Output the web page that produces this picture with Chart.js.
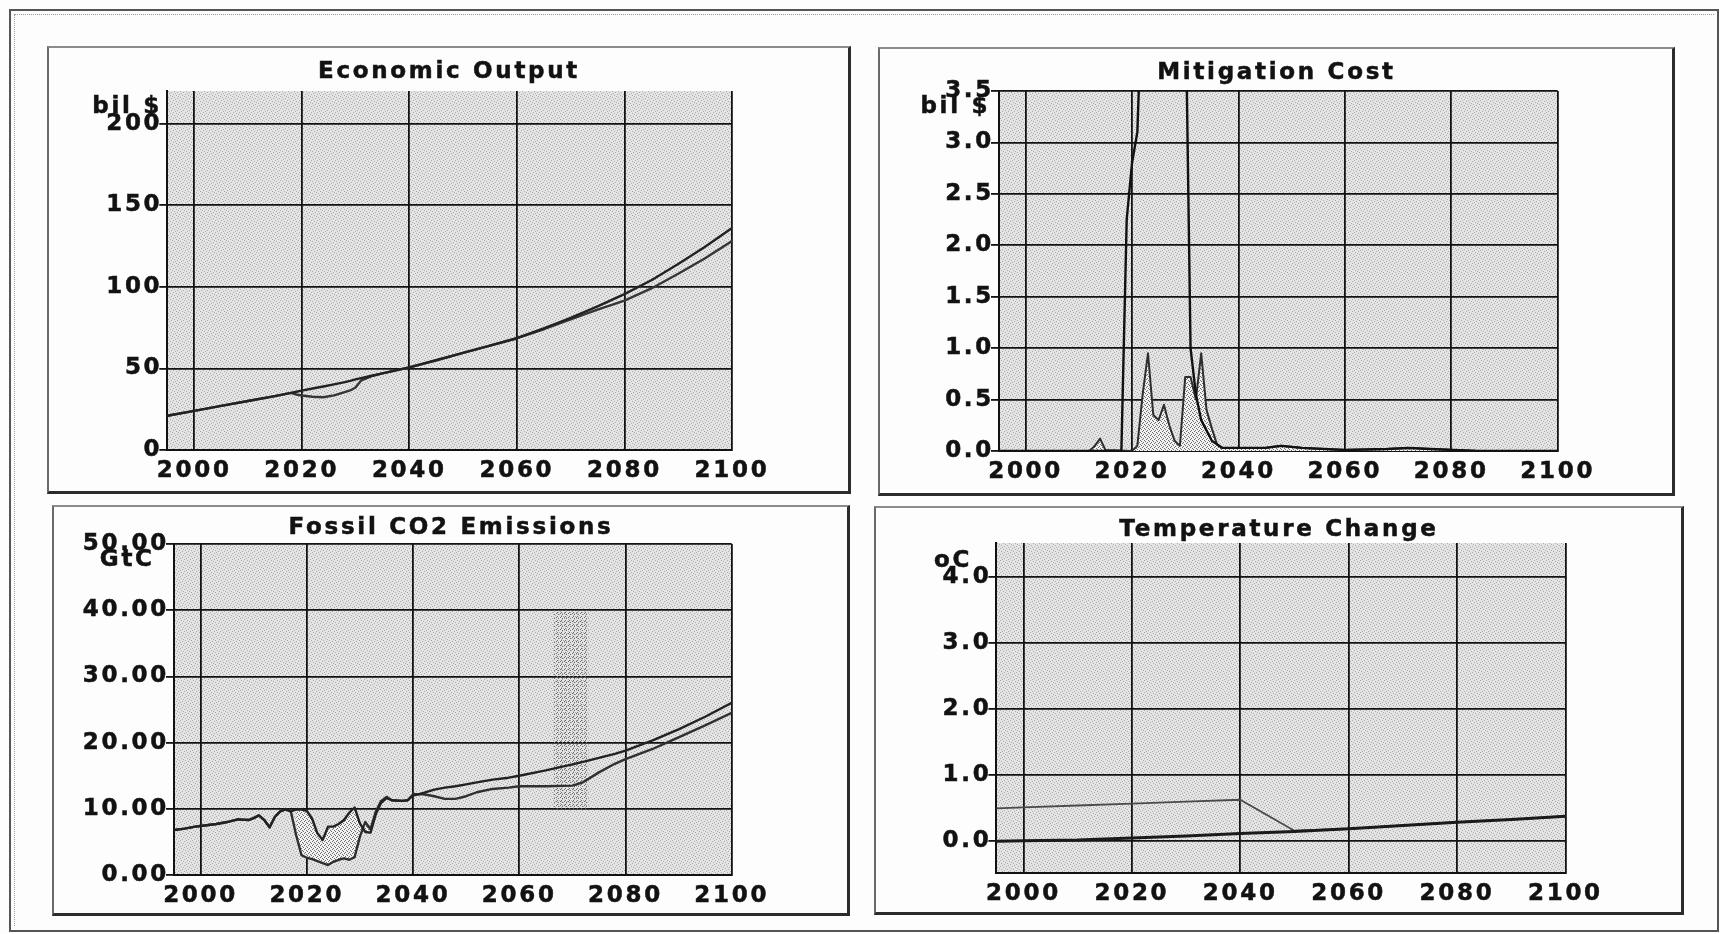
<!DOCTYPE html>
<html>
<head>
<meta charset="utf-8">
<script src="https://cdn.jsdelivr.net/npm/chart.js@4.4.1/dist/chart.umd.min.js"></script>
<style>
  html, body { margin: 0; padding: 0; background: #fdfdfd; }
  body { width: 1720px; height: 934px; position: relative; overflow: hidden; }
  canvas { position: absolute; }
  .box {
    position: absolute; box-sizing: border-box; pointer-events: none;
    border-top: 2px solid #8c8c8c; border-left: 2px solid #6a6a6a;
    border-right: 3px solid #2c2c2c; border-bottom: 3px solid #2c2c2c;
  }
  .frame { position: absolute; box-sizing: border-box; pointer-events: none; }
</style>
</head>
<body>
<div class="frame" style="left:9px;top:9px;width:1710px;height:923px;border:2px solid #555;"></div>
<div class="frame" style="left:14px;top:14px;width:1700px;height:912px;border-top:1px dotted #9a9a9a;border-left:1px dotted #9a9a9a;"></div>

<canvas id="econ" width="804" height="448" style="left:47px;top:46px"></canvas>
<canvas id="cost" width="797" height="449" style="left:878px;top:47px"></canvas>
<canvas id="co2" width="798" height="411" style="left:52px;top:505px"></canvas>
<canvas id="temp" width="810" height="409" style="left:874px;top:506px"></canvas>

<div class="box" style="left:47px;top:46px;width:804px;height:448px"></div>
<div class="box" style="left:878px;top:47px;width:797px;height:449px"></div>
<div class="box" style="left:52px;top:505px;width:798px;height:411px"></div>
<div class="box" style="left:874px;top:506px;width:810px;height:409px"></div>

<script>
// ---- tick values ----
const yearTicks = [2000, 2020, 2040, 2060, 2080, 2100];
const econTicks = [0, 50, 100, 150, 200];
const costTicks = [0, 0.5, 1, 1.5, 2, 2.5, 3, 3.5];
const co2Ticks = [0, 10, 20, 30, 40, 50];
const tempTicks = [0, 1, 2, 3, 4];

// ---- Economic Output (bil $) ----
const econYears = [1995, 2000, 2005, 2010, 2015, 2018, 2019, 2020, 2022, 2024, 2026, 2028, 2029, 2030, 2031, 2033, 2035, 2040, 2045, 2050, 2055, 2060, 2065, 2070, 2075, 2080, 2085, 2090, 2095, 2100];
const econBaseline = [21, 24, 27, 30, 33, 35, 35.7, 36.4, 37.7, 38.9, 40.2, 41.6, 42.4, 43.3, 44, 45.5, 47, 50.6, 55, 59.5, 64, 68.5, 74.5, 81, 88, 95.5, 104, 114, 124.5, 136];
const econMitigation = [21, 24, 27, 30, 33, 35, 34, 33.4, 32.6, 32.3, 33.5, 35.5, 36.5, 38.3, 42.5, 45.3, 47, 50.6, 55, 59.5, 64, 68.5, 74, 80, 86, 91.5, 99, 108, 117.5, 128];

// ---- Mitigation Cost (bil $) ----
const costHighYears = [1995, 2017, 2018, 2019, 2020, 2021, 2022, 2029, 2030, 2031, 2032, 2033, 2035, 2037, 2045, 2048, 2052, 2060, 2068, 2072, 2076, 2085, 2100];
const costHigh = [0, 0, 0, 2.25, 2.8, 3.1, 4.6, 6.5, 4.6, 1.0, 0.55, 0.3, 0.1, 0.03, 0.03, 0.05, 0.03, 0.01, 0.02, 0.03, 0.02, 0, 0];
const costLowYears = [1995, 2012, 2013, 2014, 2015, 2020, 2021, 2022, 2023, 2024, 2025, 2026, 2027, 2028, 2029, 2030, 2031, 2032, 2033, 2034, 2035, 2036, 2037, 2045, 2048, 2052, 2060, 2068, 2072, 2076, 2085, 2100];
const costLow = [0, 0, 0.05, 0.12, 0.01, 0, 0.05, 0.55, 0.95, 0.35, 0.3, 0.45, 0.25, 0.1, 0.05, 0.72, 0.72, 0.5, 0.95, 0.4, 0.22, 0.06, 0.03, 0.03, 0.05, 0.03, 0.01, 0.02, 0.03, 0.02, 0, 0];

// ---- Fossil CO2 Emissions (GtC) ----
const co2Years = [1995, 1997, 1999, 2000, 2003, 2005, 2007, 2009, 2010, 2011, 2012, 2013, 2014, 2015, 2016, 2017, 2018, 2019, 2020, 2021, 2022, 2023, 2024, 2025, 2026, 2027, 2028, 2029, 2030, 2031, 2032, 2033, 2034, 2035, 2036, 2038, 2039, 2040, 2042, 2044, 2046, 2048, 2050, 2052, 2055, 2058, 2060, 2065, 2070, 2072, 2075, 2078, 2080, 2085, 2090, 2095, 2100];
const co2LowCost = [6.8, 7.0, 7.3, 7.4, 7.7, 8.0, 8.4, 8.3, 8.6, 9.0, 8.3, 7.2, 8.8, 9.6, 9.9, 9.6, 9.9, 9.9, 9.7, 8.5, 6.3, 5.3, 7.3, 7.3, 7.7, 8.3, 9.4, 10.2, 7.8, 6.5, 6.4, 9.2, 10.9, 11.6, 11.3, 11.2, 11.3, 12.0, 12.4, 12.9, 13.2, 13.4, 13.7, 14.0, 14.4, 14.7, 15.0, 15.8, 16.7, 17.1, 17.7, 18.3, 18.8, 20.3, 22.0, 23.9, 26.0];
const co2HighCost = [6.8, 7.0, 7.3, 7.4, 7.7, 8.0, 8.4, 8.3, 8.6, 9.0, 8.3, 7.2, 8.8, 9.6, 9.9, 9.6, 6.0, 3.0, 2.6, 2.4, 2.1, 1.8, 1.5, 2.0, 2.3, 2.5, 2.3, 2.7, 5.8, 8.0, 6.9, 9.6, 11.2, 11.8, 11.3, 11.2, 11.3, 12.2, 12.2, 11.9, 11.5, 11.5, 11.9, 12.5, 13.0, 13.2, 13.4, 13.4, 13.5, 14.0, 15.5, 16.8, 17.5, 19.0, 20.8, 22.6, 24.5];
const co2ShadedPeriod = [2018, 2036];
const co2Band = [2066.5, 2073, 10, 40];

// ---- Temperature Change (oC) ----
const tempYears = [1995, 2000, 2010, 2020, 2030, 2040, 2050, 2060, 2070, 2080, 2090, 2100];
const tempBaseline = [0.0, 0.01, 0.02, 0.05, 0.08, 0.12, 0.15, 0.19, 0.24, 0.29, 0.33, 0.38];
const tempPolicy = [0.5, 0.514, 0.543, 0.572, 0.601, 0.63, 0.16, 0.19, 0.24, 0.29, 0.33, 0.38];

// ---- drawing helpers ----
const FONT_FAMILY = "'DejaVu Sans', 'Liberation Sans', Arial, sans-serif";
const FONT_SIZE = 23;
const TRACKING = 2.7;
const INK = '#121212';

function pairs(xs, ys) { return xs.map((x, i) => ({ x: x, y: ys[i] })); }

function dotTile(size, base, dot, cells) {
  const c = document.createElement('canvas');
  c.width = size; c.height = size;
  const g = c.getContext('2d');
  g.fillStyle = base; g.fillRect(0, 0, size, size);
  g.fillStyle = dot;
  cells.forEach(([x, y]) => g.fillRect(x, y, 1, 1));
  return g.createPattern(c, 'repeat');
}

const plotFill = dotTile(6, '#e4e4e4', '#acacac', [[0, 0], [3, 1], [1, 3], [4, 4], [2, 5], [5, 2]]);
const shadeFill = dotTile(4, '#f2f2f2', '#6c6c6c', [[0, 0], [2, 1], [1, 3], [3, 2]]);
const bandFill = dotTile(4, 'rgba(0,0,0,0)', '#6e6e6e', [[0, 0], [2, 1], [1, 3]]);

// letter-spaced text, stippled plot backdrop, heavier title and the unit label at the top of the y axis
const panelStyle = {
  id: 'panelStyle',
  beforeUpdate(chart) { chart.ctx.letterSpacing = TRACKING + 'px'; },
  beforeDraw(chart) {
    const { ctx, chartArea: a } = chart;
    ctx.letterSpacing = TRACKING + 'px';
    ctx.save();
    ctx.fillStyle = plotFill;
    ctx.fillRect(a.left, a.top, a.right - a.left, a.bottom - a.top);
    ctx.restore();
  },
  afterDraw(chart, args, opts) {
    const { ctx, chartArea: a } = chart;
    ctx.save();
    ctx.letterSpacing = TRACKING + 'px';
    ctx.font = 'bold ' + FONT_SIZE + 'px ' + FONT_FAMILY;
    ctx.fillStyle = INK;
    ctx.strokeStyle = INK;
    ctx.lineWidth = 0.5;
    const tb = chart.titleBlock;
    if (tb && tb.options.display) {
      ctx.textAlign = 'center';
      ctx.textBaseline = 'middle';
      ctx.strokeText(tb.options.text, (tb.left + tb.right) / 2, tb.top + tb.options.padding.top + FONT_SIZE * 0.6);
    }
    if (opts.text) {
      ctx.textAlign = 'right';
      ctx.textBaseline = 'alphabetic';
      const ux = a.left + opts.dx + TRACKING, uy = a.top + opts.dy;
      ctx.fillText(opts.text, ux, uy);
      ctx.strokeText(opts.text, ux, uy);
    }
    ctx.restore();
  }
};

// dotted shading band drawn through the chart scales
const bandShade = {
  id: 'bandShade',
  beforeDatasetsDraw(chart) {
    const { ctx, scales: { x, y } } = chart;
    const [x0, x1, y0, y1] = co2Band;
    const left = x.getPixelForValue(x0), right = x.getPixelForValue(x1);
    const top = y.getPixelForValue(y1), bottom = y.getPixelForValue(y0);
    ctx.save();
    ctx.fillStyle = bandFill;
    ctx.fillRect(left, top, right - left, bottom - top);
    ctx.restore();
  }
};

function makePanel(id, cfg) {
  const canvas = document.getElementById(id);
  const w = canvas.width, h = canvas.height;
  const lh = FONT_SIZE * 1.2;
  const padTop = cfg.titleMid - lh / 2;
  const padBottom = cfg.area.top - padTop - lh;
  const tickFont = { family: FONT_FAMILY, size: FONT_SIZE, weight: 'bold', lineHeight: 1.2 };
  return new Chart(canvas, {
    type: 'line',
    data: { datasets: cfg.datasets },
    options: {
      responsive: false,
      animation: false,
      events: [],
      layout: { padding: 0 },
      elements: { point: { radius: 0 }, line: { tension: 0, borderCapStyle: 'round', borderJoinStyle: 'round' } },
      plugins: {
        legend: { display: false },
        tooltip: { enabled: false },
        filler: { drawTime: 'beforeDatasetsDraw' },
        title: {
          display: true, text: cfg.title, color: INK,
          font: { family: FONT_FAMILY, size: FONT_SIZE, weight: 'bold', lineHeight: 1.2 },
          padding: { top: padTop, bottom: padBottom }
        },
        panelStyle: { text: cfg.unit, dx: cfg.unitDx, dy: cfg.unitDy }
      },
      scales: {
        x: {
          type: 'linear', min: 1995, max: 2100,
          afterBuildTicks(s) { s.ticks = yearTicks.map(v => ({ value: v })); },
          afterFit(s) { s.height = h - cfg.area.bottom; },
          grid: { color: INK, lineWidth: 1.8, drawTicks: false },
          border: { display: true, color: INK, width: 2 },
          ticks: { color: INK, font: tickFont, padding: 7, maxRotation: 0, autoSkip: false,
                   textStrokeColor: INK, textStrokeWidth: 0.5, callback: v => String(v) }
        },
        y: {
          type: 'linear', min: cfg.yMin, max: cfg.yMax,
          afterBuildTicks(s) { s.ticks = cfg.yTicks.map(v => ({ value: v })); },
          afterFit(s) { s.width = cfg.area.left; },
          grid: { color: INK, lineWidth: 1.8, drawTicks: true, tickLength: 8, tickColor: INK, tickWidth: 1.8 },
          border: { display: true, color: INK, width: 2 },
          ticks: { color: INK, font: tickFont, padding: -3, autoSkip: false,
                   textStrokeColor: INK, textStrokeWidth: 0.5, callback: v => Number(v).toFixed(cfg.digits) }
        },
        // empty strip on the right of the plot so the title stays centred on the whole panel
        margin: {
          type: 'linear', position: 'right', display: true,
          afterFit(s) { s.width = w - cfg.area.right; },
          grid: { display: false }, border: { display: false }, ticks: { display: false }
        }
      }
    },
    plugins: [panelStyle].concat(cfg.extraPlugins || [])
  });
}

makePanel('econ', {
  title: 'Economic Output', titleMid: 26, unit: 'bil $', unitDx: -8, unitDy: 22,
  area: { left: 120.3, top: 45, right: 685, bottom: 404 },
  yMin: 0, yMax: 220, yTicks: econTicks, digits: 0,
  datasets: [
    { data: pairs(econYears, econBaseline), borderColor: '#222222', borderWidth: 2.4, fill: false },
    { data: pairs(econYears, econMitigation), borderColor: '#363636', borderWidth: 2.4, fill: false }
  ]
});

makePanel('cost', {
  title: 'Mitigation Cost', titleMid: 26.3, unit: 'bil $', unitDx: -11.5, unitDy: 22,
  area: { left: 121, top: 44, right: 679.7, bottom: 404 },
  yMin: 0, yMax: 3.5, yTicks: costTicks, digits: 1,
  datasets: [
    { data: pairs(costHighYears, costHigh), borderColor: '#111111', borderWidth: 2.4, fill: false },
    { data: pairs(costLowYears, costLow), borderColor: '#2e2e2e', borderWidth: 2, fill: 'origin', backgroundColor: shadeFill }
  ]
});

makePanel('co2', {
  title: 'Fossil CO2 Emissions', titleMid: 23.5, unit: 'GtC', unitDx: -22, unitDy: 22,
  area: { left: 122, top: 39, right: 679.7, bottom: 370 },
  yMin: 0, yMax: 50, yTicks: co2Ticks, digits: 2,
  extraPlugins: [bandShade],
  datasets: [
    {
      data: pairs(co2Years, co2LowCost), borderColor: '#222222', borderWidth: 2.4,
      fill: '+1', backgroundColor: shadeFill,
      segment: {
        backgroundColor: c => (c.p0.parsed.x >= co2ShadedPeriod[0] && c.p1.parsed.x <= co2ShadedPeriod[1]) ? shadeFill : 'rgba(0,0,0,0)'
      }
    },
    { data: pairs(co2Years, co2HighCost), borderColor: '#303030', borderWidth: 2.4, fill: false }
  ]
});

makePanel('temp', {
  title: 'Temperature Change', titleMid: 24, unit: 'oC', unitDx: -27, unitDy: 24,
  area: { left: 122.4, top: 37, right: 691.4, bottom: 367 },
  yMin: -0.48, yMax: 4.52, yTicks: tempTicks, digits: 1,
  datasets: [
    { data: pairs(tempYears, tempBaseline), borderColor: '#1a1a1a', borderWidth: 3, fill: false },
    { data: pairs(tempYears, tempPolicy), borderColor: '#4a4a4a', borderWidth: 1.8, fill: false }
  ]
});
</script>
</body>
</html>
